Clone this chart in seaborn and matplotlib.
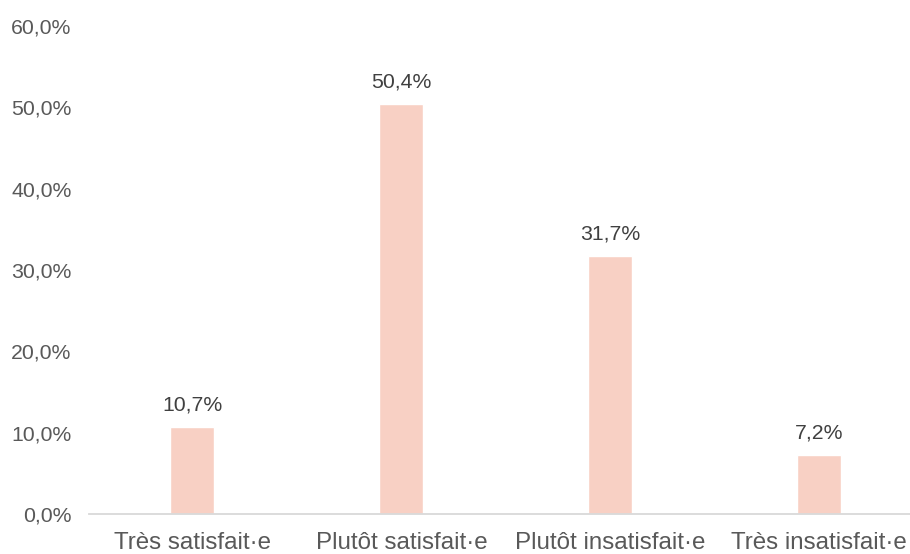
import matplotlib
matplotlib.use("Agg")
import matplotlib.pyplot as plt
import seaborn as sns
import pandas as pd

# ── Data ──────────────────────────────────────────────────────────────────────
categories = ["Très satisfait·e", "Plutôt satisfait·e",
              "Plutôt insatisfait·e", "Très insatisfait·e"]
values = [10.7, 50.4, 31.7, 7.2]
y_ticks = [0, 10, 20, 30, 40, 50, 60]

BAR_COLOR = "#F8D0C4"
TEXT_COLOR = "#595959"

sns.set_style("white")
plt.rcParams["font.family"] = ["Liberation Sans", "DejaVu Sans"]

df = pd.DataFrame({"cat": categories, "val": values})

fig = plt.figure(figsize=(9.1, 5.54), dpi=100)
ax = fig.add_axes([89 / 910, 40 / 554, 821 / 910, 488 / 554])

sns.barplot(data=df, x="cat", y="val", color=BAR_COLOR, width=0.21,
            saturation=1, ax=ax)

ax.set_ylim(0, 60)
ax.set_xlim(-0.495, 3.435)
ax.set_yticks(y_ticks)
ax.set_yticklabels([f"{t:.1f}%".replace(".", ",") for t in y_ticks])
ax.set_xlabel("")
ax.set_ylabel("")

for c in ax.containers:
    ax.bar_label(c, labels=[f"{v:.1f}%".replace(".", ",") for v in values],
                 padding=9, fontsize=15.3, color="#404040")

ax.tick_params(axis="y", length=0, labelsize=15.3, labelcolor=TEXT_COLOR, pad=12.5)
ax.tick_params(axis="x", length=0, labelsize=17.4, labelcolor=TEXT_COLOR, pad=13)

for side in ["top", "right", "left"]:
    ax.spines[side].set_visible(False)
ax.spines["bottom"].set_color("#D9D9D9")
ax.spines["bottom"].set_linewidth(1.3)

fig.savefig("out.png", dpi=100)
